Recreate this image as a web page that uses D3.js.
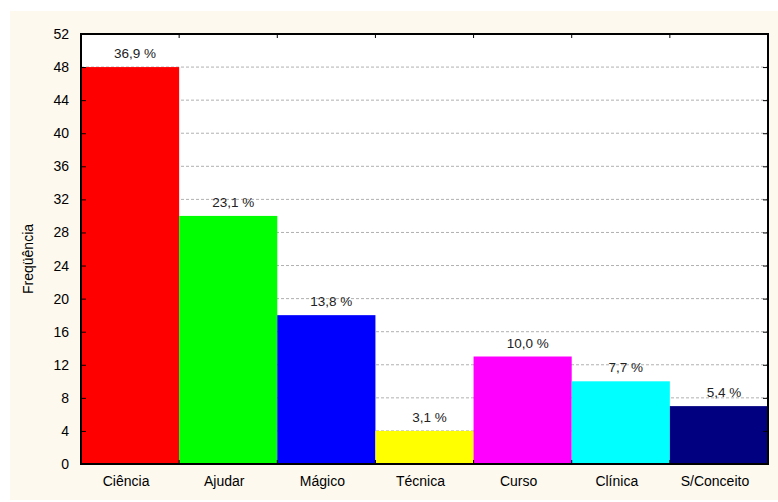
<!DOCTYPE html>
<html><head><meta charset="utf-8">
<script src="https://cdn.jsdelivr.net/npm/d3@7/dist/d3.min.js"></script>
<style>body{margin:0;background:#fff;}svg{display:block;font-family:"Liberation Sans",Arial,sans-serif;}</style>
</head><body><svg id="c" width="778" height="502"></svg>
<script>
const categories = ["Ciência","Ajudar","Mágico","Técnica","Curso","Clínica","S/Conceito"];
const values = [48,30,18,4,13,10,7];
const percentLabels = ["36,9 %","23,1 %","13,8 %","3,1 %","10,0 %","7,7 %","5,4 %"];
const colors = ["#ff0000","#00ff00","#0000ff","#ffff00","#ff00ff","#00ffff","#000080"];
const yTicks = [0,4,8,12,16,20,24,28,32,36,40,44,48,52];
const yLabel = "Freqüência";

const svg = d3.select("#c");
svg.append("rect").attr("x",10).attr("y",11).attr("width",768).attr("height",489).attr("fill","#fdf9ef");
const L=81,R=768,T=34,B=464;
svg.append("rect").attr("x",L).attr("y",T).attr("width",R-L).attr("height",B-T).attr("fill","#fff");
const x = d3.scaleBand().domain(categories).range([L,R]).padding(0);
const y = d3.scaleLinear().domain([0,52]).range([B,T]);

// grid
svg.append("g").selectAll("line").data(yTicks.filter(d=>d>0&&d<52)).join("line")
 .attr("x1",L).attr("x2",R).attr("y1",d=>y(d)).attr("y2",d=>y(d))
 .attr("stroke","#b0b0b0").attr("stroke-width",1).attr("stroke-dasharray","3,2");

// bars
svg.append("g").selectAll("rect").data(values).join("rect")
 .attr("x",(d,i)=>x(categories[i])).attr("width",x.bandwidth())
 .attr("y",d=>y(d)).attr("height",d=>B-y(d))
 .attr("fill",(d,i)=>colors[i]);

// labels
svg.append("g").selectAll("text").data(values).join("text")
 .attr("x",(d,i)=>x(categories[i])+x.bandwidth()/2+5).attr("y",d=>y(d)-9)
 .attr("text-anchor","middle").attr("font-size",13.5).attr("fill","#222")
 .text((d,i)=>percentLabels[i]);

// axes
const yAxis = d3.axisLeft(y).tickValues(yTicks).tickSize(-5).tickPadding(12);
const gy = svg.append("g").attr("transform",`translate(${L},0)`).call(yAxis);
gy.select(".domain").remove();
gy.selectAll(".tick line").attr("stroke","#000");
gy.selectAll("text").attr("font-size",14).attr("fill","#000").attr("font-family","Liberation Sans, Arial, sans-serif");
const gyr = svg.append("g").attr("transform",`translate(${R},0)`).call(d3.axisRight(y).tickValues(yTicks).tickSize(-5).tickFormat(""));
gyr.select(".domain").remove();
gyr.selectAll(".tick line").attr("stroke","#000");

const bounds = categories.slice(1).map(c=>x(c));
svg.append("g").selectAll("line").data(bounds).join("line")
 .attr("x1",d=>d).attr("x2",d=>d).attr("y1",B).attr("y2",B-4).attr("stroke","#000");
svg.append("g").selectAll("line").data(bounds).join("line")
 .attr("x1",d=>d).attr("x2",d=>d).attr("y1",T).attr("y2",T+4).attr("stroke","#000");

const gx = svg.append("g").attr("transform",`translate(-4,${B})`).call(d3.axisBottom(x).tickSize(0).tickPadding(12));
gx.select(".domain").remove();
gx.selectAll("text").attr("font-size",14).attr("fill","#000").attr("font-family","Liberation Sans, Arial, sans-serif");

svg.append("rect").attr("x",L).attr("y",T).attr("width",R-L).attr("height",B-T)
 .attr("fill","none").attr("stroke","#000").attr("stroke-width",2);

svg.append("text").attr("transform",`translate(33,${(T+B)/2+10}) rotate(-90)`)
 .attr("text-anchor","middle").attr("font-size",14).attr("fill","#000").text(yLabel);
</script></body></html>
